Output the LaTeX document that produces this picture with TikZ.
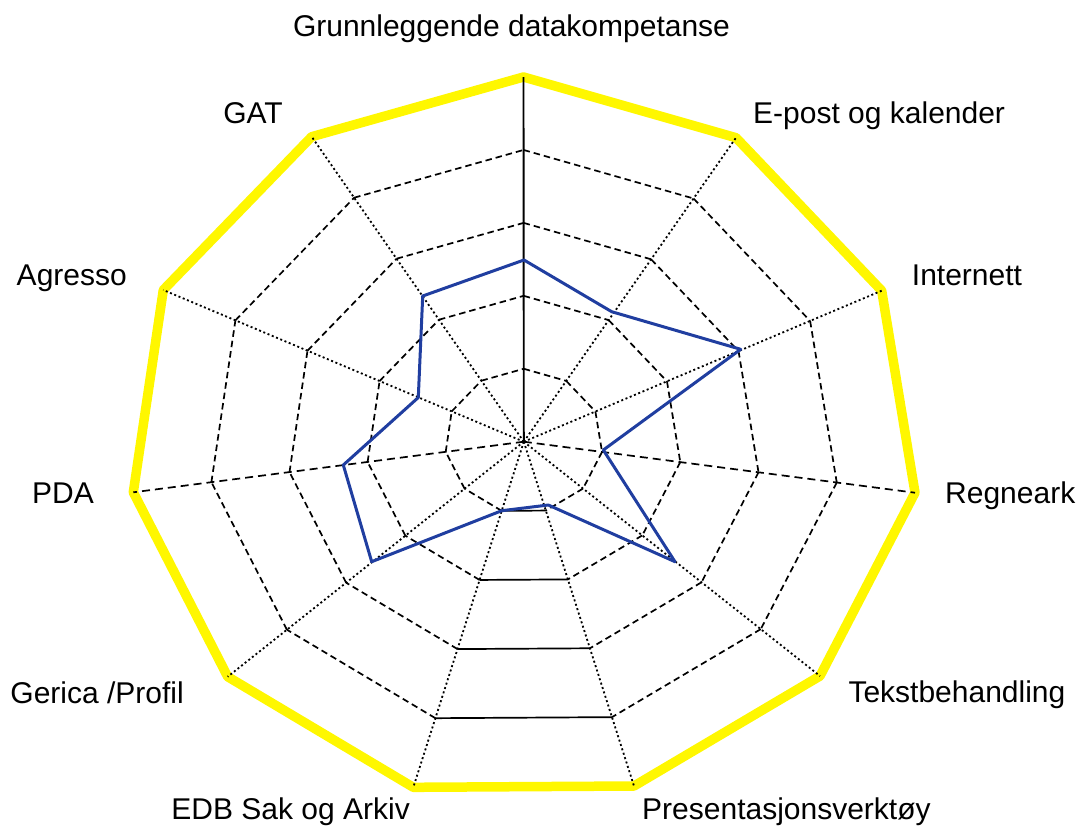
\documentclass[tikz,border=0pt]{standalone}
\usepackage{fontspec}
\setmainfont{Liberation Sans}
\usetikzlibrary{calc}
\definecolor{chartyellow}{RGB}{255,247,0}
\definecolor{chartblue}{RGB}{32,62,160}
\begin{document}
\begin{tikzpicture}[x=1pt,y=-1pt,
  spoke/.style={line width=1.8pt, dash pattern=on 2pt off 2.6pt},
  spokedash/.style={line width=1.7pt, dash pattern=on 8pt off 5pt},
  spokesolid/.style={line width=1.9pt},
  ring/.style={line width=1.7pt, dash pattern=on 6.5pt off 4pt},
  ringsolid/.style={line width=1.7pt},
  outer/.style={chartyellow, line width=9.5pt, line join=round},
  series/.style={chartblue, line width=3pt, line join=round},
  lab/.style={font=\fontsize{30}{36}\selectfont, inner sep=0pt}]
\useasboundingbox (0,0) rectangle (1078,828);
% centre and axis end points
\coordinate (C) at (523.8,441.7);
\coordinate (P0) at (523.5,77);
\coordinate (P1) at (736,137.7);
\coordinate (P2) at (881.7,290.7);
\coordinate (P3) at (915,492.7);
\coordinate (P4) at (820,676);
\coordinate (P5) at (634,786);
\coordinate (P6) at (413.3,787.3);
\coordinate (P7) at (227.7,676.7);
\coordinate (P8) at (133.3,492.3);
\coordinate (P9) at (163.3,290);
\coordinate (P10) at (311.7,136.7);
% outer ring
\draw[outer] (P0) -- (P1) -- (P2) -- (P3) -- (P4) -- (P5) -- (P6) -- (P7) -- (P8) -- (P9) -- (P10) -- cycle;
% inner rings
\foreach \k [evaluate=\k as \f using \k/5] in {1,...,4} {
  \foreach \i/\j in {0/1,1/2,2/3,3/4,4/5,6/7,7/8,8/9,9/10,10/0} {
    \draw[ring] ($(C)!\f!(P\i)$) -- ($(C)!\f!(P\j)$);
  }
  \draw[ringsolid] ($(C)!\f!(P5)$) -- ($(C)!\f!(P6)$);
}
% spokes
\draw[spokesolid] (C) -- (P0);
\foreach \i in {1,2,4,5,6,7,9,10} {
  \draw[spoke] (C) -- (P\i);
}
\draw[spokedash] (C) -- (P3);
\draw[spokedash] (C) -- (P8);
% data series
\coordinate (B0) at (524,260);
\coordinate (B1) at (611.7,311.7);
\coordinate (B2) at (740.7,349.3);
\coordinate (B3) at (603.3,450);
\coordinate (B4) at (675,561.7);
\coordinate (B5) at (548.3,505);
\coordinate (B6) at (501.7,510.7);
\coordinate (B7) at (371.7,561.7);
\coordinate (B8) at (343.3,465);
\coordinate (B9) at (418.3,397.5);
\coordinate (B10) at (422.7,296);
\draw[series] (B0) -- (B1) -- (B2) -- (B3) -- (B4) -- (B5) -- (B6) -- (B7) -- (B8) -- (B9) -- (B10) -- cycle;
% labels
\node[lab, anchor=base] (t0) at (511.5,36) {Grunnleggende datakompetanse};
\node[lab, anchor=base west] (t1) at (753,123) {E-post og kalender};
\node[lab, anchor=base west] (t2) at (911.7,285) {Internett};
\node[lab, anchor=base west] (t3) at (945,503.3) {Regneark};
\node[lab, anchor=base west] (t4) at (848.3,702.7) {Tekstbehandling};
\node[lab, anchor=base west] (t5) at (642,819) {Presentasjonsverktøy};
\node[lab, anchor=base east] (t6) at (410,819) {EDB Sak og Arkiv};
\node[lab, anchor=base east] (t7) at (184,703.3) {Gerica /Profil};
\node[lab, anchor=base east] (t8) at (94,503.3) {PDA};
\node[lab, anchor=base east] (t9) at (127,285) {Agresso};
\node[lab, anchor=base east] (t10) at (283,123) {GAT};
\end{tikzpicture}
\end{document}
